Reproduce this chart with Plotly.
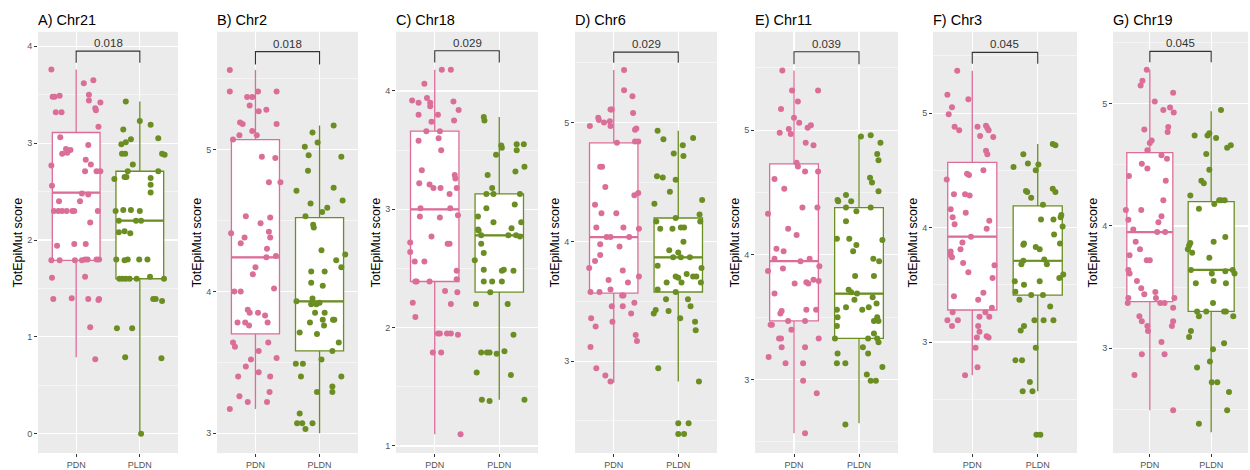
import plotly.graph_objects as go

# ---------------- data ----------------
PANELS = ["A) Chr21", "B) Chr2", "C) Chr18", "D) Chr6", "E) Chr11", "F) Chr3", "G) Chr19"]
GROUPS = ["PDN", "PLDN"]
P_VALUES = ["0.018", "0.018", "0.029", "0.029", "0.039", "0.045", "0.045"]

# box statistics per panel
PDN_Q1 = [1.79, 3.70, 2.39, 3.57, 3.47, 3.28, 3.38]
PDN_MED = [2.49, 4.24, 3.00, 4.04, 3.95, 3.92, 3.95]
PDN_Q3 = [3.11, 5.07, 3.66, 4.83, 4.73, 4.57, 4.60]
PDN_LO = [0.79, 3.17, 1.10, 2.82, 2.57, 2.71, 2.49]
PDN_HI = [3.76, 5.56, 4.18, 5.44, 5.48, 5.37, 5.28]

PLDN_Q1 = [1.60, 3.58, 2.30, 3.58, 3.33, 3.41, 3.30]
PLDN_MED = [2.20, 3.93, 2.78, 3.87, 3.69, 3.71, 3.64]
PLDN_Q3 = [2.71, 4.52, 3.13, 4.20, 4.38, 4.19, 4.20]
PLDN_LO = [0.00, 3.00, 1.39, 2.83, 2.65, 2.57, 2.31]
PLDN_HI = [3.43, 5.17, 3.78, 4.93, 4.95, 4.73, 4.94]

# bracket heights (top of bracket, bottom of bracket legs)
BRACKET_TOP = [3.95, 5.69, 4.34, 5.59, 5.63, 5.53, 5.43]
BRACKET_LEG = [3.83, 5.60, 4.24, 5.50, 5.53, 5.43, 5.34]

# y-axis ranges and ticks
Y_RANGES = [[-0.2, 4.15], [2.86, 5.83], [0.94, 4.50], [2.23, 5.76], [2.41, 5.79], [2.03, 5.71], [2.14, 5.59]]
Y_TICKS = [[0, 1, 2, 3, 4], [3, 4, 5], [1, 2, 3, 4], [3, 4, 5], [3, 4, 5], [3, 4, 5], [3, 4, 5]]

# jittered points: (horizontal jitter, score)
A_PDN = [(-0.39,3.76),(-0.37,3.48),(-0.34,3.48),(-0.26,3.49),(-0.32,3.32),(-0.23,3.32),(-0.25,3.06),(-0.22,2.89),
         (-0.16,2.94),(-0.09,2.93),(-0.14,2.90),(-0.39,2.77),(-0.38,2.56),(-0.35,2.30),(-0.28,2.30),(-0.22,2.30),
         (-0.15,2.30),(-0.06,2.30),(-0.03,2.30),(-0.27,2.40),(0.06,2.40),(-0.30,1.94),(-0.03,1.96),(0.15,1.96),
         (-0.39,1.79),(-0.26,1.79),(-0.02,1.79),(0.09,1.79),(0.14,1.80),(0.18,1.80),(0.32,1.80),(0.36,1.80),
         (-0.38,1.61),(-0.36,1.39),(-0.07,1.40),(0.19,1.39),(0.35,1.38),(0.36,1.39),(0.22,1.10),(0.30,0.77),
         (0.12,3.62),(0.27,3.65),(0.20,3.50),(0.20,3.44),(0.30,3.36),(0.31,3.34),(0.38,3.42),(0.35,3.17),
         (0.19,2.98),(0.15,2.83),(0.23,2.78),(0.14,2.71),(0.32,2.71),(0.38,2.71),(0.09,2.48),(0.19,2.47),
         (0.22,2.18),(0.34,2.30),(0.14,1.62)]
A_PLDN = [(-0.22,3.43),(-0.26,3.14),(-0.29,2.99),(-0.22,3.01),(-0.14,3.04),(-0.28,2.89),(-0.23,2.89),(-0.11,2.78),
          (-0.19,2.71),(-0.40,2.63),(-0.24,2.65),(-0.21,2.65),(-0.38,2.30),(-0.26,2.31),(-0.14,2.31),(0.00,2.30),
          (-0.33,2.20),(-0.06,2.20),(0.02,2.20),(-0.33,2.08),(-0.24,2.09),(-0.15,2.07),(-0.37,1.80),(-0.24,1.79),
          (-0.19,1.80),(-0.01,1.80),(0.12,1.80),(-0.32,1.60),(-0.27,1.60),(-0.22,1.60),(-0.16,1.60),(-0.05,1.60),
          (0.16,1.62),(0.38,1.60),(0.00,3.23),(0.17,3.19),(0.29,3.05),(0.35,2.89),(0.39,2.88),(0.29,2.71),
          (0.17,2.64),(0.17,2.57),(0.17,2.49),(0.21,1.39),(0.25,1.39),(0.35,1.37),(-0.36,1.09),(-0.12,1.09),
          (-0.23,0.79),(0.34,0.78),(0.02,0.00)]
B_PDN = [(-0.40,5.56),(-0.40,5.41),(-0.13,5.37),(-0.05,5.37),(0.04,5.41),(0.33,5.41),(-0.09,5.31),(0.05,5.27),
         (0.17,5.28),(-0.24,5.19),(-0.20,5.18),(0.33,5.18),(-0.05,5.13),(-0.25,5.10),(0.02,5.10),(-0.35,5.07),
         (0.10,4.95),(0.31,4.94),(0.21,4.77),(0.39,4.77),(-0.15,4.53),(0.08,4.48),(0.23,4.52),(-0.38,4.41),
         (-0.17,4.38),(-0.23,4.34),(0.21,4.42),(0.23,4.38),(0.18,4.30),(0.32,4.25),(0.17,4.24),(0.00,4.17),
         (-0.04,4.12),(0.29,4.02),(-0.33,4.00),(-0.23,4.00),(-0.12,3.87),(-0.09,3.85),(0.04,3.85),(0.15,3.83),
         (-0.28,3.78),(-0.16,3.78),(-0.10,3.76),(0.19,3.78),(-0.35,3.64),(-0.32,3.61),(0.20,3.64),(0.05,3.58),
         (-0.07,3.52),(0.33,3.53),(-0.15,3.47),(-0.27,3.40),(0.05,3.43),(0.23,3.40),(0.22,3.29),(-0.25,3.26),
         (-0.12,3.22),(0.18,3.22),(-0.40,3.17)]
B_PLDN = [(0.22,5.17),(-0.11,5.12),(-0.03,5.05),(-0.23,5.02),(-0.17,4.96),(0.34,4.95),(-0.18,4.85),(-0.36,4.71),
          (0.22,4.73),(0.36,4.64),(-0.14,4.62),(0.04,4.56),(0.12,4.59),(-0.22,4.53),(-0.10,4.47),(-0.09,4.45),
          (0.03,4.29),(0.40,4.26),(0.26,4.22),(0.34,4.17),(-0.13,4.14),(0.08,4.14),(-0.13,4.06),(0.05,4.04),
          (-0.36,3.93),(-0.11,3.95),(-0.13,3.91),(-0.05,3.91),(0.00,3.92),(-0.07,3.85),(0.08,3.85),(-0.31,3.71),
          (-0.15,3.78),(0.05,3.80),(0.07,3.76),(0.21,3.80),(0.23,3.80),(-0.04,3.70),(0.30,3.64),(0.20,3.58),
          (0.03,3.52),(-0.37,3.49),(-0.26,3.49),(-0.29,3.40),(0.34,3.40),(0.20,3.33),(0.20,3.29),(-0.04,3.29),
          (-0.31,3.14),(-0.35,3.07),(-0.27,3.07),(-0.11,3.07),(-0.22,3.03)]
C_PDN = [(0.11,4.18),(0.25,4.18),(-0.16,4.06),(-0.35,3.92),(-0.25,3.90),(-0.12,3.94),(-0.07,3.90),(-0.07,3.87),
         (0.29,3.91),(0.37,3.84),(-0.25,3.80),(0.05,3.80),(-0.05,3.74),(0.30,3.75),(-0.13,3.66),(0.08,3.66),
         (-0.25,3.58),(0.06,3.60),(0.10,3.50),(-0.20,3.33),(0.31,3.29),(0.32,3.26),(-0.24,3.22),(-0.08,3.21),
         (-0.02,3.18),(0.09,3.18),(0.23,3.13),(0.34,3.18),(-0.22,3.01),(0.24,3.01),(-0.23,2.94),(0.08,2.93),
         (0.36,2.95),(-0.05,2.77),(-0.38,2.72),(0.20,2.71),(0.23,2.71),(-0.38,2.64),(-0.31,2.56),(-0.16,2.56),
         (0.34,2.48),(-0.30,2.39),(-0.28,2.39),(-0.08,2.39),(0.34,2.41),(0.16,2.31),(0.35,2.30),(-0.34,2.21),
         (0.25,2.20),(-0.30,2.09),(0.05,1.95),(0.08,1.95),(0.19,1.95),(0.25,1.95),(0.36,1.94),(-0.03,1.79),
         (0.10,1.79),(0.40,1.10)]
C_PLDN = [(-0.24,3.78),(-0.23,3.75),(0.03,3.54),(0.04,3.52),(0.27,3.50),(0.27,3.55),(0.38,3.55),(-0.05,3.46),
          (0.39,3.36),(0.25,3.32),(-0.18,3.29),(-0.11,3.18),(-0.20,3.13),(-0.09,3.13),(0.32,3.13),(0.24,3.04),
          (-0.20,3.01),(-0.33,2.94),(-0.09,2.89),(0.34,2.89),(-0.33,2.83),(-0.32,2.82),(0.19,2.84),(-0.28,2.78),
          (0.14,2.78),(0.26,2.78),(0.32,2.77),(-0.28,2.71),(-0.24,2.63),(-0.38,2.57),(-0.24,2.49),(0.04,2.48),
          (0.07,2.49),(0.22,2.48),(-0.24,2.39),(-0.11,2.39),(0.04,2.39),(-0.14,2.30),(-0.36,2.20),(0.13,2.20),
          (0.22,1.94),(-0.28,1.79),(-0.19,1.79),(-0.15,1.79),(-0.04,1.78),(0.08,1.80),(-0.35,1.62),(0.18,1.60),
          (-0.27,1.39),(-0.15,1.38),(0.39,1.39)]
D_PDN = [(0.16,5.44),(0.16,5.27),(0.29,5.22),(0.30,5.08),(-0.03,5.11),(-0.05,5.11),(-0.24,5.04),(-0.23,5.02),
         (-0.15,5.00),(-0.06,5.01),(-0.37,4.97),(-0.05,4.97),(0.33,4.94),(0.35,4.95),(0.05,4.83),(0.33,4.84),
         (0.38,4.84),(-0.21,4.63),(-0.18,4.63),(-0.13,4.46),(0.38,4.41),(0.32,4.39),(-0.29,4.31),(-0.19,4.24),
         (0.04,4.24),(-0.27,4.12),(0.15,4.12),(0.39,4.11),(-0.11,4.04),(-0.05,4.04),(0.24,4.04),(-0.21,3.98),
         (0.09,3.96),(-0.21,3.89),(-0.29,3.84),(-0.38,3.78),(0.14,3.76),(0.39,3.71),(-0.08,3.68),(0.22,3.66),
         (-0.36,3.58),(-0.22,3.58),(-0.05,3.60),(0.13,3.55),(0.15,3.55),(-0.03,3.46),(0.14,3.46),(0.32,3.49),
         (0.27,3.40),(-0.35,3.36),(-0.28,3.29),(-0.02,3.33),(0.34,3.22),(0.36,3.17),(-0.36,3.12),(-0.27,2.94),
         (-0.13,2.88),(-0.05,2.83)]
D_PLDN = [(-0.32,4.93),(-0.23,4.86),(0.23,4.87),(0.07,4.81),(-0.07,4.74),(0.08,4.72),(-0.33,4.55),(-0.24,4.54),
          (-0.04,4.52),(-0.13,4.42),(0.37,4.35),(-0.37,4.32),(-0.04,4.20),(0.33,4.23),(-0.34,4.17),(-0.28,4.11),
          (-0.09,4.11),(0.04,4.12),(0.09,4.12),(0.34,4.17),(0.08,4.00),(-0.14,3.93),(0.00,3.91),(-0.08,3.87),
          (0.04,3.87),(0.18,3.87),(-0.32,3.80),(0.13,3.73),(-0.04,3.71),(0.00,3.70),(0.23,3.71),(0.28,3.71),
          (0.36,3.78),(-0.18,3.66),(0.05,3.66),(0.35,3.66),(-0.32,3.60),(-0.04,3.58),(-0.19,3.52),(0.15,3.52),
          (0.19,3.46),(-0.15,3.42),(-0.35,3.43),(-0.38,3.40),(0.03,3.36),(0.26,3.33),(0.27,3.26),(-0.31,2.94),
          (0.32,2.83),(0.00,2.48),(0.16,2.48),(0.00,2.39),(0.09,2.39)]
E_PDN = [(-0.18,5.48),(-0.03,5.32),(0.37,5.32),(0.06,5.23),(-0.20,5.17),(0.00,5.10),(0.08,5.06),(-0.08,5.01),
         (-0.22,4.98),(-0.05,4.97),(0.21,5.02),(0.26,5.04),(0.18,4.90),(0.30,4.88),(0.04,4.74),(0.06,4.71),
         (0.17,4.67),(0.37,4.67),(-0.30,4.61),(-0.15,4.53),(0.13,4.38),(0.36,4.38),(-0.40,4.33),(-0.09,4.21),
         (0.04,4.16),(-0.27,4.05),(-0.16,4.03),(-0.30,3.97),(0.24,3.97),(0.10,3.95),(0.39,3.91),(-0.17,3.89),
         (-0.40,3.87),(0.38,3.79),(0.30,3.80),(0.19,3.78),(0.22,3.77),(0.01,3.77),(-0.30,3.69),(-0.19,3.55),
         (-0.21,3.53),(0.19,3.56),(0.34,3.56),(-0.36,3.44),(-0.34,3.44),(-0.09,3.47),(0.17,3.47),(-0.04,3.40),
         (-0.23,3.33),(-0.20,3.33),(0.38,3.33),(-0.19,3.26),(0.17,3.26),(-0.39,3.18),(-0.13,3.13),(0.14,3.13),
         (0.14,2.99),(0.35,2.89),(0.17,2.57)]
E_PLDN = [(0.03,4.95),(0.18,4.96),(0.33,4.90),(0.28,4.81),(0.30,4.76),(0.17,4.62),(0.20,4.58),(0.30,4.51),
          (-0.20,4.48),(-0.33,4.44),(-0.32,4.43),(-0.12,4.43),(-0.20,4.38),(-0.04,4.35),(0.18,4.38),(-0.20,4.27),
          (-0.34,4.13),(-0.15,4.13),(0.36,4.12),(-0.04,4.08),(-0.09,4.03),(0.22,3.97),(0.31,3.95),(-0.06,3.83),
          (0.23,3.83),(-0.16,3.72),(-0.12,3.70),(-0.03,3.69),(0.21,3.66),(-0.07,3.64),(-0.20,3.58),(-0.34,3.56),
          (0.05,3.56),(0.27,3.61),(0.15,3.58),(0.28,3.50),(-0.33,3.50),(0.23,3.47),(0.30,3.47),(-0.34,3.43),
          (0.23,3.37),(0.28,3.33),(-0.37,3.33),(0.14,3.33),(0.06,3.26),(0.30,3.30),(0.14,3.21),(-0.33,3.21),
          (-0.34,3.13),(-0.21,3.13),(0.36,3.10),(0.12,3.04),(0.18,2.99),(0.26,2.99),(-0.21,2.64)]
F_PDN = [(-0.23,5.37),(-0.38,5.16),(-0.06,5.12),(-0.31,5.05),(-0.36,4.99),(-0.27,4.88),(-0.20,4.85),(0.08,4.88),
         (0.12,4.80),(0.21,4.89),(0.23,4.87),(0.25,4.85),(0.32,4.79),(0.21,4.67),(0.23,4.64),(0.17,4.50),
         (-0.39,4.42),(-0.08,4.47),(-0.05,4.46),(-0.28,4.29),(-0.11,4.29),(-0.04,4.28),(-0.33,4.16),(-0.10,4.13),
         (-0.30,4.09),(0.26,4.06),(-0.27,4.03),(0.22,3.99),(-0.02,3.92),(-0.15,3.87),(-0.33,3.79),(-0.18,3.81),
         (-0.33,3.76),(-0.31,3.74),(-0.14,3.69),(0.34,3.67),(-0.06,3.61),(0.31,3.56),(-0.28,3.40),(0.17,3.43),
         (0.09,3.37),(0.30,3.30),(-0.30,3.26),(0.20,3.26),(0.26,3.22),(0.11,3.22),(-0.38,3.19),(-0.22,3.19),
         (-0.31,3.14),(0.09,3.14),(0.11,3.09),(0.07,3.04),(0.22,3.05),(0.25,3.04),(0.05,2.95),(0.08,2.78),
         (-0.11,2.71)]
F_PLDN = [(0.23,4.73),(0.27,4.72),(-0.22,4.64),(-0.15,4.56),(0.01,4.55),(-0.37,4.53),(-0.03,4.50),(-0.18,4.32),
          (-0.16,4.31),(0.23,4.34),(0.27,4.31),(-0.10,4.26),(0.08,4.20),(0.36,4.11),(0.35,4.09),(0.05,4.07),
          (0.24,4.07),(0.38,4.01),(0.25,3.94),(-0.22,3.85),(-0.21,3.86),(0.34,3.86),(-0.03,3.83),(0.03,3.81),
          (-0.22,3.71),(-0.25,3.68),(0.10,3.72),(0.14,3.68),(0.39,3.59),(0.33,3.56),(-0.35,3.53),(0.03,3.53),
          (-0.21,3.50),(-0.34,3.44),(-0.10,3.41),(0.08,3.41),(-0.28,3.37),(0.19,3.31),(-0.05,3.19),(0.09,3.19),
          (0.24,3.19),(-0.21,3.14),(-0.26,3.10),(-0.03,2.95),(-0.34,2.84),(-0.24,2.84),(-0.12,2.65),(-0.23,2.57),
          (-0.08,2.57),(-0.02,2.19),(0.04,2.19)]
G_PDN = [(-0.05,5.28),(-0.12,5.19),(-0.15,5.15),(0.38,5.09),(0.08,5.02),(0.33,4.97),(0.22,4.95),(0.39,4.93),
         (0.30,4.81),(0.29,4.77),(-0.09,4.79),(0.03,4.70),(0.00,4.68),(-0.04,4.62),(0.19,4.58),(0.28,4.55),
         (-0.13,4.51),(-0.04,4.47),(-0.34,4.41),(0.26,4.37),(0.22,4.21),(-0.39,4.13),(-0.14,4.13),(0.19,4.08),
         (-0.35,4.05),(0.14,4.03),(-0.27,3.97),(0.12,3.95),(0.25,3.95),(-0.23,3.87),(-0.16,3.81),(-0.05,3.72),
         (0.00,3.72),(-0.33,3.76),(-0.35,3.64),(-0.33,3.61),(-0.21,3.55),(-0.14,3.49),(-0.09,3.44),(0.09,3.46),
         (-0.35,3.41),(-0.36,3.37),(0.10,3.41),(0.17,3.37),(0.24,3.37),(0.40,3.41),(0.38,3.33),(-0.17,3.26),
         (-0.13,3.22),(0.38,3.22),(0.36,3.18),(-0.04,3.18),(-0.03,3.14),(0.19,3.05),(0.24,2.95),(-0.13,2.95),
         (-0.25,2.78),(0.38,2.49)]
G_PLDN = [(0.16,4.95),(-0.27,4.74),(-0.06,4.74),(-0.03,4.76),(0.08,4.72),(0.26,4.64),(0.32,4.66),(-0.08,4.59),
          (-0.03,4.46),(-0.16,4.37),(-0.12,4.35),(-0.34,4.25),(0.13,4.21),(0.16,4.21),(0.22,4.21),(0.05,4.18),
          (-0.20,4.14),(0.23,3.91),(-0.34,3.86),(0.04,3.87),(-0.36,3.84),(-0.38,3.81),(-0.31,3.78),(-0.03,3.74),
          (-0.33,3.64),(0.23,3.63),(0.35,3.64),(0.38,3.61),(0.01,3.61),(0.04,3.55),(-0.25,3.53),(0.24,3.53),
          (0.03,3.37),(-0.23,3.30),(-0.08,3.30),(-0.20,3.26),(0.21,3.30),(0.24,3.30),(0.36,3.26),(-0.33,3.14),
          (-0.36,3.09),(0.21,3.04),(0.03,2.99),(-0.02,2.89),(-0.23,2.84),(0.01,2.72),(0.10,2.72),(0.29,2.64),
          (0.26,2.49),(-0.20,2.38)]

PDN_POINTS = [A_PDN, B_PDN, C_PDN, D_PDN, E_PDN, F_PDN, G_PDN]
PLDN_POINTS = [A_PLDN, B_PLDN, C_PLDN, D_PLDN, E_PLDN, F_PLDN, G_PLDN]

# ---------------- style ----------------
W, H = 1250, 470
PINK = "#DB6E99"
GREEN = "#6B8E23"
PANEL_BG = "#EBEBEB"
FONT = "Liberation Sans"
BOX_W = 0.75
X_PIX = [(38, 178), (217, 358), (396, 538), (575, 717), (755, 898), (933, 1077), (1113, 1248)]
Y_PIX = (32, 456)

fig = go.Figure()
layout = dict(
    width=W, height=H, margin=dict(l=0, r=0, t=0, b=0),
    paper_bgcolor="white", plot_bgcolor=PANEL_BG, showlegend=False,
    font=dict(family=FONT, color="#4D4D4D"),
)
annotations = []
for i in range(7):
    n = i + 1
    xa = "x" if n == 1 else f"x{n}"
    ya = "y" if n == 1 else f"y{n}"
    xkey = "xaxis" if n == 1 else f"xaxis{n}"
    ykey = "yaxis" if n == 1 else f"yaxis{n}"
    x0, x1 = X_PIX[i]
    layout[xkey] = dict(
        domain=[x0 / W, x1 / W], anchor=ya, range=[0.4, 2.6],
        tickvals=[1, 2], ticktext=GROUPS, ticks="outside", ticklen=3, tickwidth=1,
        tickcolor="#333333", tickfont=dict(size=9, color="#555555", family=FONT),
        showgrid=True, gridcolor="white", gridwidth=1.1, zeroline=False, showline=False,
    )
    layout[ykey] = dict(
        domain=[1 - Y_PIX[1] / H, 1 - Y_PIX[0] / H], anchor=xa, range=Y_RANGES[i],
        tickvals=Y_TICKS[i], ticks="outside", ticklen=3, tickwidth=1, tickcolor="#333333",
        tickfont=dict(size=9, color="#555555", family=FONT),
        showgrid=True, gridcolor="white", gridwidth=1.1, zeroline=False, showline=False,
        minor=dict(dtick=0.5, tick0=0, showgrid=True, gridcolor="white", gridwidth=0.5, ticklen=0),
    )

    stats = [
        (PDN_Q1[i], PDN_MED[i], PDN_Q3[i], PDN_LO[i], PDN_HI[i], PINK, 1, PDN_POINTS[i]),
        (PLDN_Q1[i], PLDN_MED[i], PLDN_Q3[i], PLDN_LO[i], PLDN_HI[i], GREEN, 2, PLDN_POINTS[i]),
    ]
    for q1, med, q3, lo, hi, col, pos, pts in stats:
        fig.add_trace(go.Box(
            x=[pos], q1=[q1], median=[med], q3=[q3], lowerfence=[lo], upperfence=[hi],
            width=BOX_W, fillcolor="white", line=dict(color=col, width=1.3),
            whiskerwidth=0, boxpoints=False, xaxis=xa, yaxis=ya, hoverinfo="skip",
        ))
        # thicker median line (ggplot style)
        fig.add_trace(go.Scatter(
            x=[pos - BOX_W / 2, pos + BOX_W / 2], y=[med, med], mode="lines",
            line=dict(color=col, width=2.2), xaxis=xa, yaxis=ya, hoverinfo="skip",
        ))
    for q1, med, q3, lo, hi, col, pos, pts in stats:
        fig.add_trace(go.Scatter(
            x=[pos + d for d, _ in pts], y=[v for _, v in pts], mode="markers",
            marker=dict(color=col, size=6, line=dict(width=0)),
            xaxis=xa, yaxis=ya, hoverinfo="skip",
        ))
    # significance bracket
    fig.add_trace(go.Scatter(
        x=[1, 1, 2, 2], y=[BRACKET_LEG[i], BRACKET_TOP[i], BRACKET_TOP[i], BRACKET_LEG[i]],
        mode="lines", line=dict(color="#333333", width=1.1), xaxis=xa, yaxis=ya, hoverinfo="skip",
    ))
    annotations.append(dict(
        x=1.5, y=BRACKET_TOP[i], xref=xa, yref=ya, text=P_VALUES[i], showarrow=False,
        yanchor="bottom", yshift=0, font=dict(size=11.5, color="#333333", family=FONT),
    ))
    # panel title
    annotations.append(dict(
        x=0, xref=f"{xa} domain", xshift=-2, y=1 - 20 / H, yref="paper", text=PANELS[i],
        showarrow=False, xanchor="left", yanchor="middle",
        font=dict(size=14.5, color="black", family=FONT),
    ))
    # y-axis title
    annotations.append(dict(
        x=0, xref=f"{xa} domain", xshift=-20, y=0.5, yref=f"{ya} domain", text="TotEpiMut score",
        showarrow=False, textangle=-90, xanchor="center", yanchor="middle",
        font=dict(size=12.5, color="black", family=FONT),
    ))

layout["annotations"] = annotations
fig.update_layout(**layout)
fig.write_html(
    "out.html",
    config={"displayModeBar": False, "staticPlot": True},
    post_script="document.body.style.margin='0';document.body.style.overflow='hidden';",
)
